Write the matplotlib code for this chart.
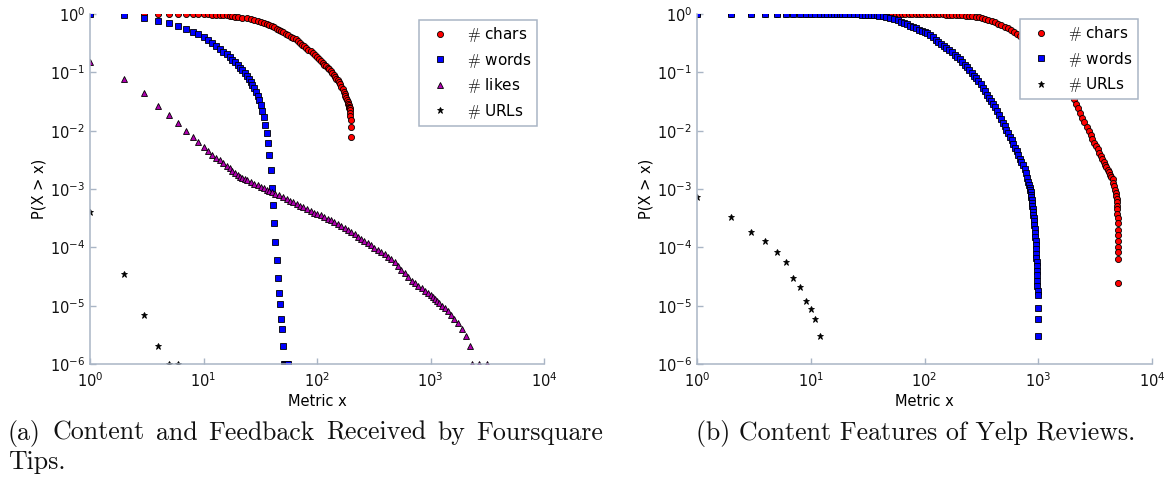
import matplotlib
matplotlib.use("Agg")
import matplotlib.pyplot as plt
from matplotlib.font_manager import FontProperties
from matplotlib.ticker import LogLocator, NullLocator

# Foursquare tips: complementary CDFs P(X > x)
fsq_chars_x = [3, 4, 5, 6, 7, 8, 9, 10, 11, 12,
               13, 14, 15, 16, 17, 18, 19, 20, 22, 24,
               26, 28, 30, 32, 34, 36, 38, 40, 42, 44,
               46, 48, 50, 53, 56, 59, 62, 65, 68, 71,
               74, 77, 80, 84, 88, 92, 96, 100, 104, 108,
               112, 116, 120, 124, 128, 132, 136, 140, 144, 148,
               152, 156, 160, 164, 168, 172, 175, 178, 181, 184,
               186, 188, 190, 192, 193, 194, 195, 196, 197, 198,
               199, 200]
fsq_chars_p = [1.0, 1.0, 0.999, 0.998, 0.996, 0.994, 0.992, 0.99, 0.985, 0.98,
               0.972, 0.964, 0.955, 0.945, 0.935, 0.918, 0.903, 0.889, 0.863, 0.84,
               0.809, 0.782, 0.757, 0.736, 0.714, 0.676, 0.643, 0.614, 0.587, 0.562,
               0.54, 0.518, 0.493, 0.462, 0.435, 0.409, 0.387, 0.366, 0.343, 0.321,
               0.3, 0.282, 0.265, 0.245, 0.228, 0.211, 0.196, 0.181, 0.168, 0.156,
               0.146, 0.136, 0.128, 0.12, 0.113, 0.105, 0.0975, 0.0906, 0.0843, 0.0783,
               0.0729, 0.0682, 0.0631, 0.0565, 0.0511, 0.0457, 0.0427, 0.0398, 0.0367, 0.0334,
               0.031, 0.0292, 0.0271, 0.0255, 0.0248, 0.024, 0.023, 0.02, 0.0175, 0.0155,
               0.0115, 0.0078]

fsq_words_x = list(range(1, 56))
fsq_words_p = [1.0, 0.95, 0.865, 0.77, 0.69, 0.62, 0.545, 0.50, 0.45, 0.398,
               0.354, 0.314, 0.279, 0.251, 0.226, 0.204, 0.183, 0.165, 0.148, 0.134,
               0.12, 0.108, 0.0974, 0.0865, 0.0769, 0.0683, 0.0607, 0.0532, 0.046, 0.0393,
               0.0331, 0.0272, 0.0217, 0.0169, 0.0127, 0.009, 0.00607, 0.00378, 0.00212, 0.00105,
               5.3e-4, 2.6e-4, 1.25e-4, 6e-5, 3e-5, 1.67e-5, 1.07e-5, 5.9e-6, 4e-6, 2e-6,
               1e-6, 1e-6, 1e-6, 1e-6, 1e-6]

fsq_likes_x = [1, 2, 3, 4, 5, 6, 7, 8, 9, 10,
               11, 12, 13, 14, 15, 16, 17, 18, 19, 20,
               21, 22, 23, 24, 26, 28, 30, 32, 34, 36,
               38, 40, 43, 46, 50, 54, 58, 62, 66, 71,
               76, 82, 88, 94, 101, 108, 116, 124, 133, 142,
               152, 163, 175, 187, 200, 214, 229, 245, 262, 281,
               300, 321, 344, 368, 394, 422, 452, 484, 518, 555,
               594, 636, 681, 729, 781, 836, 895, 958, 1000, 1050,
               1100, 1150, 1200, 1259, 1340, 1420, 1510, 1610, 1730, 1880,
               2055, 2250, 2307, 2673, 3162]
fsq_likes_p = [0.152, 0.076, 0.044, 0.027, 0.0183, 0.0133, 0.0100, 0.0077, 0.0063, 0.0052,
               0.0045, 0.0039, 0.0034, 0.0031, 0.00275, 0.00248, 0.00226, 0.00207, 0.0019, 0.00176,
               0.00163, 0.00155, 0.00148, 0.00142, 0.00132, 0.00123, 0.00115, 0.00108, 0.00102, 0.00097,
               0.00093, 0.00089, 0.00083, 0.00078, 0.00072, 0.00067, 0.00063, 0.00059, 0.00056, 0.00052,
               0.00049, 0.00045, 0.00042, 0.000395, 0.000375, 3.6e-4, 3.35e-4, 3.12e-4, 2.9e-4, 2.71e-4,
               2.52e-4, 2.35e-4, 2.16e-4, 1.99e-4, 1.82e-4, 1.67e-4, 1.53e-4, 1.4e-4, 1.28e-4, 1.17e-4,
               1.08e-4, 9.86e-5, 9.0e-5, 8.26e-5, 7.57e-5, 6.92e-5, 6.32e-5, 5.6e-5, 4.84e-5, 4.16e-5,
               3.58e-5, 3.09e-5, 2.69e-5, 2.43e-5, 2.2e-5, 2.0e-5, 1.8e-5, 1.63e-5, 1.5e-5, 1.4e-5,
               1.3e-5, 1.2e-5, 1.1e-5, 1.0e-5, 9e-6, 8e-6, 7e-6, 6e-6, 5e-6, 4e-6,
               3e-6, 2e-6, 1e-6, 1e-6, 1e-6]

fsq_urls_x = [1, 2, 3, 4, 5, 6]
fsq_urls_p = [4.1e-4, 3.45e-5, 7e-6, 2e-6, 1e-6, 1e-6]

# Yelp reviews
yelp_chars_x = [1, 2, 3, 4, 5, 6, 7, 8, 9, 10,
                12, 14, 16, 18, 20, 22, 24, 26, 28, 30,
                33, 36, 39, 42, 45, 48, 52, 56, 60, 64,
                68, 73, 78, 84, 90, 96, 103, 110, 118, 126,
                135, 144, 154, 165, 176, 188, 201, 215, 230, 246,
                263, 281, 300, 320, 342, 365, 390, 416, 444, 474,
                506, 540, 576, 614, 655, 698, 744, 793, 845, 900,
                958, 1020, 1085, 1150, 1220, 1290, 1365, 1440, 1520, 1600,
                1685, 1770, 1860, 1950, 2045, 2140, 2240, 2340, 2445, 2550,
                2660, 2770, 2880, 2990, 3100, 3210, 3320, 3430, 3540, 3650,
                3760, 3870, 3980, 4090, 4200, 4300, 4400, 4500, 4580, 4660,
                4730, 4790, 4840, 4880, 4910, 4935, 4955, 4970, 4985, 4990,
                4992, 4994, 4996, 4997, 4998, 4999, 5000]
yelp_chars_p = [1.0, 1.0, 1.0, 1.0, 1.0, 1.0, 1.0, 1.0, 1.0, 0.9995,
                0.9994, 0.9993, 0.9992, 0.9991, 0.999, 0.9989, 0.9988, 0.9987, 0.9986, 0.9985,
                0.9983, 0.9981, 0.9979, 0.9977, 0.9975, 0.9972, 0.9969, 0.9965, 0.9961, 0.9957,
                0.9953, 0.9948, 0.9943, 0.9937, 0.993, 0.9922, 0.9912, 0.99, 0.9885, 0.9866,
                0.9843, 0.9817, 0.9787, 0.9752, 0.9727, 0.9629, 0.9533, 0.9436, 0.9337, 0.9243,
                0.9149, 0.9058, 0.8903, 0.859, 0.826, 0.796, 0.767, 0.728, 0.686, 0.645,
                0.608, 0.573, 0.54, 0.495, 0.452, 0.412, 0.375, 0.335, 0.298, 0.265,
                0.237, 0.21, 0.186, 0.165, 0.147, 0.13, 0.1138, 0.1, 0.0877, 0.077,
                0.0649, 0.0555, 0.047, 0.0405, 0.0346, 0.029, 0.024, 0.02, 0.0166, 0.0139,
                0.0116, 0.0099, 0.0084, 0.00713, 0.00622, 0.0054, 0.00476, 0.00421, 0.00372, 0.00331,
                0.00295, 0.00263, 0.00237, 0.00213, 0.00193, 0.00176, 0.00161, 0.00147, 0.00129, 0.00111,
                9.5e-4, 8.5e-4, 7.6e-4, 6.8e-4, 6.0e-4, 5.2e-4, 4.5e-4, 3.8e-4, 3.2e-4, 2.6e-4,
                2.0e-4, 1.6e-4, 1.3e-4, 1.03e-4, 8.4e-5, 6.3e-5, 2.4e-5]

yelp_words_x = [1, 2, 3, 4, 5, 6, 7, 8, 9, 10,
                11, 12, 13, 14, 15, 16, 17, 18, 19, 20,
                22, 24, 26, 28, 30, 32, 34, 36, 38, 40,
                43, 46, 50, 54, 58, 62, 66, 70, 75, 80,
                85, 90, 95, 100, 106, 112, 118, 125, 132, 140,
                148, 156, 165, 175, 185, 195, 205, 215, 225, 236,
                248, 260, 272, 285, 298, 312, 326, 340, 355, 370,
                386, 402, 418, 435, 452, 470, 488, 506, 525, 545,
                565, 585, 605, 626, 647, 668, 690, 712, 735, 758,
                780, 800, 820, 835,
                845, 852, 858, 864, 870, 876, 882, 888, 894, 900,
                906, 912, 918, 924, 930, 936, 942, 947, 952, 956,
                960, 964, 967, 970, 973, 976, 979, 982, 985, 988,
                992, 996, 1000]
yelp_words_p = [1.0, 1.0, 1.0, 0.9999, 0.9999, 0.9998, 0.9998, 0.9997, 0.9996, 0.9995,
                0.999, 0.999, 0.998, 0.998, 0.997, 0.996, 0.995, 0.994, 0.993, 0.991,
                0.988, 0.985, 0.981, 0.977, 0.972, 0.966, 0.959, 0.951, 0.943, 0.933,
                0.908, 0.881, 0.851, 0.813, 0.78, 0.741, 0.705, 0.673, 0.635, 0.598,
                0.565, 0.537, 0.51, 0.49, 0.465, 0.429, 0.396, 0.363, 0.334, 0.307,
                0.282, 0.261, 0.24, 0.219, 0.202, 0.186, 0.167, 0.151, 0.136, 0.122,
                0.109, 0.0977, 0.0881, 0.0794, 0.0716, 0.0619, 0.0541, 0.0475, 0.0415, 0.0365,
                0.0319, 0.0282, 0.0251, 0.0214, 0.0184, 0.0158, 0.0138, 0.012, 0.0104, 0.00902,
                0.00783, 0.00686, 0.00589, 0.00507, 0.0044, 0.00383, 0.00333, 0.00292, 0.00254, 0.0022,
                0.00186, 0.00155, 0.0013, 0.00115,
                1.05e-3, 9.6e-4, 8.8e-4, 8.0e-4, 7.2e-4, 6.5e-4, 5.8e-4, 5.2e-4, 4.6e-4, 4.1e-4,
                3.6e-4, 3.2e-4, 2.8e-4, 2.4e-4, 2.05e-4, 1.75e-4, 1.5e-4, 1.28e-4, 1.08e-4, 9.2e-5,
                7.8e-5, 6.6e-5, 5.6e-5, 4.8e-5, 4.0e-5, 3.3e-5, 2.7e-5, 2.2e-5, 1.8e-5, 1.5e-5,
                9e-6, 6e-6, 3e-6]

yelp_urls_x = [1, 2, 3, 4, 5, 6, 7, 8, 9, 10, 11, 12]
yelp_urls_p = [7.4e-4, 3.3e-4, 1.86e-4, 1.3e-4, 8.2e-5, 5.5e-5,
               3.0e-5, 2.1e-5, 1.19e-5, 8.8e-6, 5.9e-6, 3.0e-6]

caption_a = ["(a)", "Content", "and", "Feedback", "Received", "by", "Foursquare"]
caption_a2 = "Tips."
caption_b = "(b) Content Features of Yelp Reviews."

AXIS_COLOR = "#a9b5c5"
STYLES = {
    "chars": dict(marker="o", ms=4.4, mfc="#ff0000"),
    "words": dict(marker="s", ms=4.2, mfc="#0000ff"),
    "likes": dict(marker="^", ms=4.8, mfc="#b000b0"),
    "URLs": dict(marker="*", ms=5.0, mfc="#000000"),
}

W, H = 1171, 482
fig = plt.figure(figsize=(W / 100, H / 100), dpi=100)
fig.patch.set_facecolor("white")


def setup_axes(ax):
    ax.set_xscale("log")
    ax.set_yscale("log")
    ax.set_xlim(1, 1e4)
    ax.set_ylim(1e-6, 1)
    ax.xaxis.set_major_locator(LogLocator(base=10, numticks=10))
    ax.yaxis.set_major_locator(LogLocator(base=10, numticks=10))
    ax.xaxis.set_minor_locator(NullLocator())
    ax.yaxis.set_minor_locator(NullLocator())
    for side in ("top", "right"):
        ax.spines[side].set_visible(False)
    for side in ("left", "bottom"):
        ax.spines[side].set_color(AXIS_COLOR)
        ax.spines[side].set_linewidth(1.1)
    ax.tick_params(which="major", direction="in", length=4, width=1.0,
                   color=AXIS_COLOR, labelsize=10.5, labelcolor="#111111")
    ax.tick_params(axis="x", pad=5)
    ax.set_xlabel("Metric x", fontsize=10.5)
    ax.set_ylabel("P(X > x)", fontsize=10.5)
    ax.xaxis.set_label_coords(0.5, -0.085)
    ax.yaxis.set_label_coords(-0.095, 0.5)


def scatter(ax, x, p, key):
    ax.plot(x, p, linestyle="none", mec="#000000", mew=0.6,
            label=r"$\#$ " + key, **STYLES[key])


def add_legend(ax, anchor):
    prop = FontProperties(family="DejaVu Sans", size=11, math_fontfamily="cm")
    leg = ax.legend(loc="upper right", bbox_to_anchor=anchor, borderaxespad=0,
                    prop=prop, fancybox=False, framealpha=1, numpoints=1,
                    handlelength=2.0, handletextpad=0.8, labelspacing=0.42,
                    borderpad=0.35)
    leg.get_frame().set_edgecolor(AXIS_COLOR)
    leg.get_frame().set_linewidth(1.1)


ax1 = fig.add_axes([90 / W, 1 - 364 / H, 454 / W, 350 / H])
setup_axes(ax1)
scatter(ax1, fsq_chars_x, fsq_chars_p, "chars")
scatter(ax1, fsq_words_x, fsq_words_p, "words")
scatter(ax1, fsq_likes_x, fsq_likes_p, "likes")
scatter(ax1, fsq_urls_x, fsq_urls_p, "URLs")
add_legend(ax1, (0.985, 0.983))

ax2 = fig.add_axes([697 / W, 1 - 364 / H, 455 / W, 350 / H])
setup_axes(ax2)
scatter(ax2, yelp_chars_x, yelp_chars_p, "chars")
scatter(ax2, yelp_words_x, yelp_words_p, "words")
scatter(ax2, yelp_urls_x, yelp_urls_p, "URLs")
add_legend(ax2, (0.969, 0.986))

# sub-figure captions, the first one justified over two lines
cap_kw = dict(fontfamily="cmr10", fontsize=18.6, va="baseline", color="#111111")
renderer = fig.canvas.get_renderer()
words = [fig.text(0, 0, w, **cap_kw) for w in caption_a]
widths = [t.get_window_extent(renderer).width for t in words]
x0, x1 = 8, 603
gap = (x1 - x0 - sum(widths)) / (len(words) - 1)
xpos = x0
for t, w in zip(words, widths):
    t.set_position((xpos / W, 1 - 440 / H))
    xpos += w + gap
fig.text(x0 / W, 1 - 469 / H, caption_a2, **cap_kw)
fig.text(916 / W, 1 - 440 / H, caption_b, ha="center", **cap_kw)

fig.savefig("out.png", dpi=100)
